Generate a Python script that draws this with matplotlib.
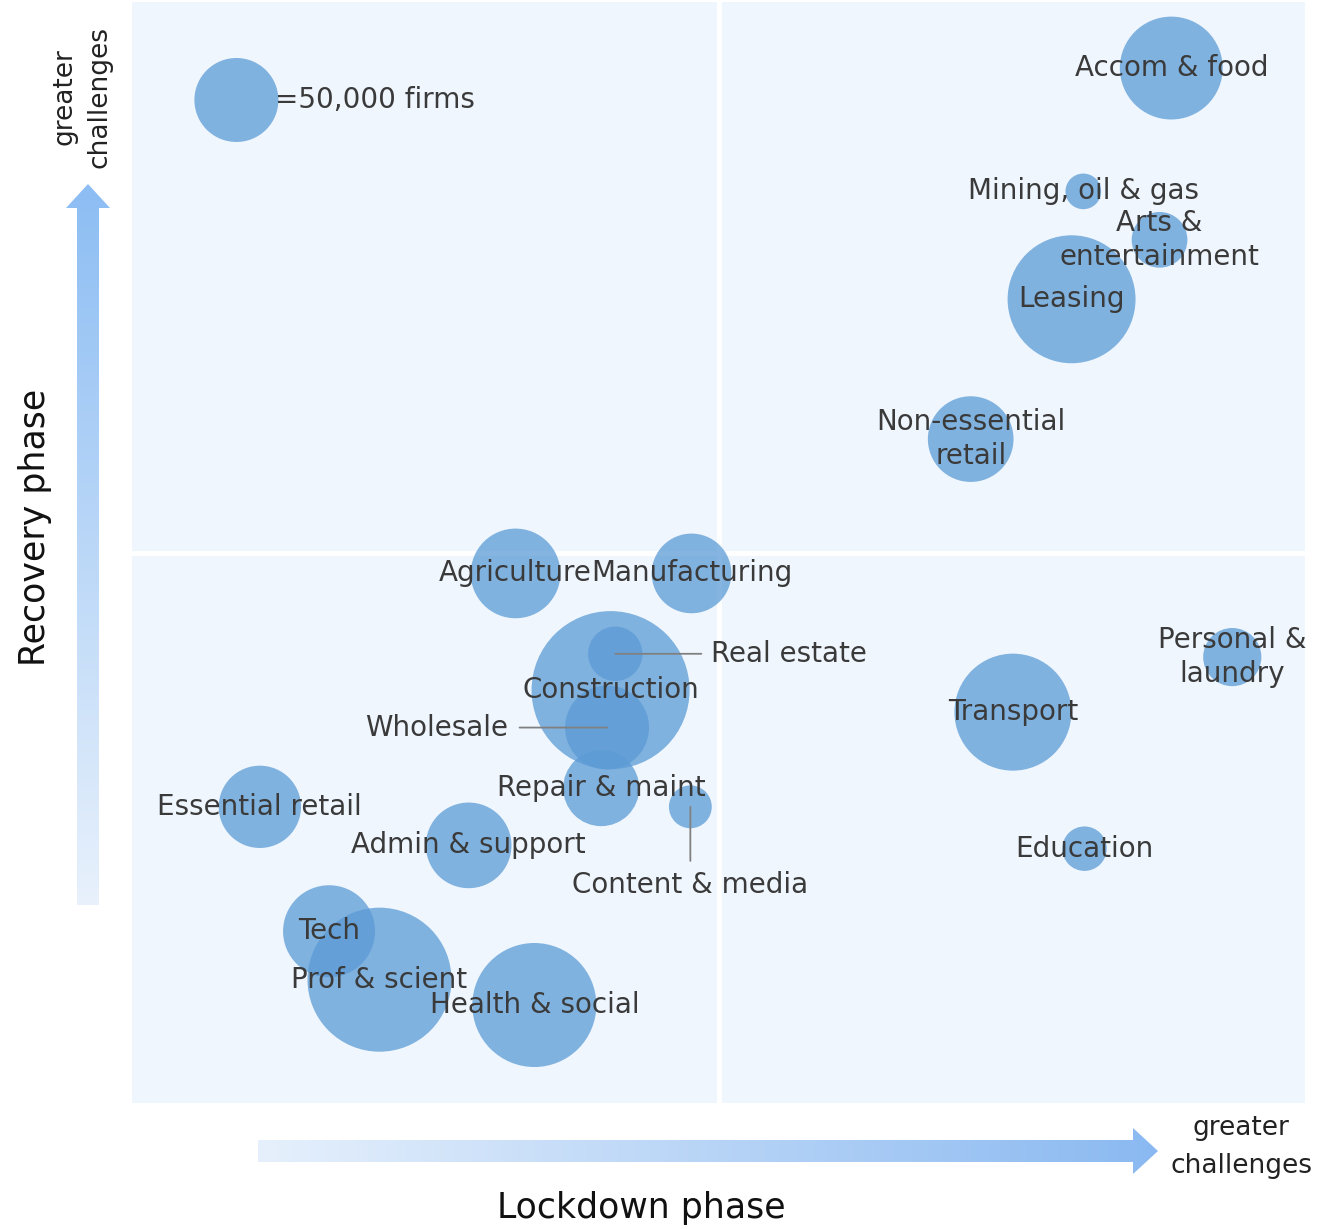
import numpy as np
import matplotlib
matplotlib.use("Agg")
import matplotlib.pyplot as plt
from matplotlib.path import Path
from matplotlib.patches import PathPatch

# Sector positions: lockdown-phase challenge (x) vs recovery-phase challenge (y),
# bubble area proportional to number of firms (thousands)
sectors = ["Accom & food", "Mining, oil & gas", "Arts &\nentertainment", "Leasing",
           "Non-essential\nretail", "Agriculture", "Manufacturing", "Real estate",
           "Construction", "Wholesale", "Repair & maint", "Content & media",
           "Essential retail", "Admin & support", "Tech", "Prof & scient",
           "Health & social", "Transport", "Personal &\nlaundry", "Education"]
lockdown = [88.6, 81.1, 87.6, 80.1, 71.5, 32.7, 47.7, 41.2, 40.8, 40.5,
            40.0, 47.6, 10.9, 28.7, 16.8, 21.1, 34.3, 75.1, 93.8, 81.2]
recovery = [94.0, 82.8, 78.4, 73.0, 60.3, 48.1, 48.1, 40.8, 37.5, 34.1,
            28.6, 26.9, 26.9, 23.4, 15.6, 11.2, 8.9, 35.5, 40.5, 23.1]
firms_k = [75, 9, 22, 116, 52, 57, 45, 21, 177, 50,
           41, 13, 48, 52, 60, 147, 109, 97, 24, 14]

legend_firms_k = 50
legend_pos = (8.9, 91.1)
legend_label = "=50,000 firms"

BUBBLE = "#5B9BD5"
PANEL = "#EFF6FE"
TEXT = "#3A3A3A"
FS = 20

W, H, DPI = 1320, 1229, 100
fig = plt.figure(figsize=(W / DPI, H / DPI), dpi=DPI, facecolor="white")
ax = fig.add_axes([132 / W, 1 - 1103 / H, (1305 - 132) / W, 1101 / H])
ax.set_facecolor(PANEL)
ax.set_xlim(0, 100)
ax.set_ylim(0, 100)
for s in ax.spines.values():
    s.set_visible(False)
ax.set_xticks([])
ax.set_yticks([])

ax.axvline(50, color="white", lw=3.5, zorder=1)
ax.axhline(50, color="white", lw=3.5, zorder=1)

# marker area: legend bubble radius of 42 px corresponds to 50,000 firms
legend_diam_pt = 2 * 42 * 72 / DPI
size_per_k = legend_diam_pt ** 2 / legend_firms_k

ax.scatter(lockdown, recovery, s=np.array(firms_k) * size_per_k,
           color=BUBBLE, alpha=0.75, edgecolors="none", zorder=2)
ax.scatter([legend_pos[0]], [legend_pos[1]], s=legend_firms_k * size_per_k,
           color=BUBBLE, alpha=0.75, edgecolors="none", zorder=2)
ax.annotate(legend_label, legend_pos, xytext=(28, 0), textcoords="offset points",
            ha="left", va="center", fontsize=FS, color=TEXT, zorder=4)

leaders = {
    "Real estate": dict(xytext=(69, 0), ha="left", va="center", shrinkA=5),
    "Wholesale": dict(xytext=(-71, 0), ha="right", va="center", shrinkA=6),
    "Content & media": dict(xytext=(0, -56), ha="center", va="center", shrinkA=5),
}

for name, x, y in zip(sectors, lockdown, recovery):
    if name in leaders:
        o = leaders[name]
        ax.annotate(name, (x, y), xytext=o["xytext"], textcoords="offset points",
                    ha=o["ha"], va=o["va"], fontsize=FS, color=TEXT, zorder=4,
                    arrowprops=dict(arrowstyle="-", color="#808080", lw=1.3,
                                    shrinkA=o["shrinkA"], shrinkB=0))
    else:
        ax.text(x, y, name, ha="center", va="center", fontsize=FS, color=TEXT,
                linespacing=1.3, multialignment="center", zorder=4)

# overlay in pixel coordinates for the gradient arrows and axis captions
ov = fig.add_axes([0, 0, 1, 1], facecolor="none")
ov.set_axis_off()


def gradient_arrow(verts, extent, c_start, c_end, vertical):
    path = Path(verts + [verts[0]], closed=True)
    patch = PathPatch(path, facecolor="none", edgecolor="none")
    ov.add_patch(patch)
    t = np.linspace(0, 1, 256)
    c0 = np.array(matplotlib.colors.to_rgb(c_start))
    c1 = np.array(matplotlib.colors.to_rgb(c_end))
    cols = c0[None, :] * (1 - t[:, None]) + c1[None, :] * t[:, None]
    if vertical:
        img = cols[::-1][:, None, :]  # top row = end colour
    else:
        img = cols[None, :, :]
    im = ov.imshow(img, extent=extent, origin="upper", aspect="auto",
                   interpolation="bilinear")
    im.set_clip_path(patch)


# vertical arrow (recovery axis), pointing up
gradient_arrow([(77, 905), (99, 905), (99, 208), (110, 208), (88, 184),
                (66, 208), (77, 208)],
               (66, 110, 905, 184), "#E8F1FC", "#8CBDF3", vertical=True)
# horizontal arrow (lockdown axis), pointing right
gradient_arrow([(258, 1140), (1133, 1140), (1133, 1128), (1158, 1151),
                (1133, 1174), (1133, 1162), (258, 1162)],
               (258, 1158, 1174, 1128), "#E6F0FC", "#8AB9F1", vertical=False)

ov.set_xlim(0, W)
ov.set_ylim(H, 0)

ov.text(35, 527, "Recovery phase", rotation=90, ha="center", va="center",
        fontsize=25, color="#111111")
ov.text(641, 1208, "Lockdown phase", ha="center", va="center",
        fontsize=25, color="#111111")
ov.text(82, 97, "greater\nchallenges", rotation=90, ha="center", va="center",
        fontsize=19, color="#222222", linespacing=1.45, multialignment="center")
ov.text(1241, 1147, "greater\nchallenges", ha="center", va="center",
        fontsize=19, color="#222222", linespacing=1.6, multialignment="center")

fig.savefig("out.png", dpi=DPI, facecolor="white")
